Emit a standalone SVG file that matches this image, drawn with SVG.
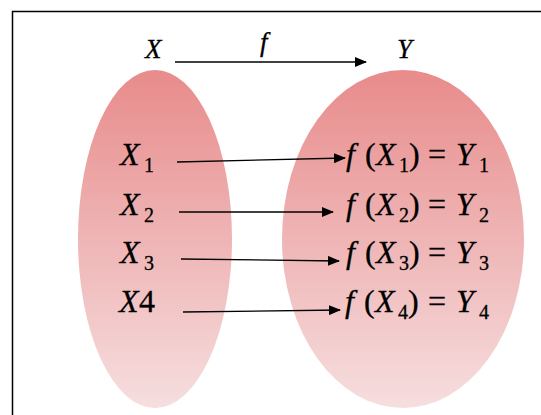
<svg xmlns="http://www.w3.org/2000/svg" width="541" height="415" viewBox="0 0 541 415">
<defs>
<linearGradient id="g" x1="0" y1="0" x2="0" y2="1">
<stop offset="0" stop-color="#e88b8b"/>
<stop offset="1" stop-color="#f6dedf"/>
</linearGradient>
<marker id="ah" markerWidth="12" markerHeight="10" refX="11" refY="5" orient="auto" markerUnits="userSpaceOnUse">
<path d="M0,0 L12,5 L0,10 Z" fill="#000"/>
</marker>
<style>
text{font-family:"Liberation Serif","DejaVu Serif",serif;font-style:italic;fill:#000;stroke:#000;stroke-width:0.3}
.m{font-size:32px}
.s{font-size:20px;font-style:normal}
.n{font-style:normal}
.h{font-size:27px}
.c line{stroke:#000;stroke-width:1.3;marker-end:url(#ah)}
</style>
</defs>
<rect width="541" height="415" fill="#fff"/>
<rect x="12.5" y="11.5" width="540" height="420" fill="none" stroke="#000" stroke-width="1.5"/>
<g id="setX"><ellipse cx="155" cy="239" rx="77" ry="169" fill="url(#g)"/><text class="h" x="145" y="58">X</text></g>
<g id="setY"><ellipse cx="403" cy="239" rx="121" ry="169" fill="url(#g)"/><text class="h" x="397" y="58">Y</text></g>
<g id="x1"><text class="m" x="120" y="165">X<tspan class="s" x="144" y="172">1</tspan></text></g>
<g id="x2"><text class="m" x="120" y="215">X<tspan class="s" x="144" y="222">2</tspan></text></g>
<g id="x3"><text class="m" x="120" y="263">X<tspan class="s" x="144" y="270">3</tspan></text></g>
<g id="x4"><text class="m" x="119" y="312">X<tspan class="n" x="139">4</tspan></text></g>
<g id="y1"><text class="m" y="165"><tspan x="346">f</tspan><tspan class="n" x="365">(</tspan><tspan x="376">X</tspan><tspan class="s" x="399" y="172">1</tspan><tspan class="n" x="409" y="165">)</tspan><tspan class="n" x="428">=</tspan><tspan x="456">Y</tspan><tspan class="s" x="479" y="172">1</tspan></text></g>
<g id="y2"><text class="m" y="215"><tspan x="346">f</tspan><tspan class="n" x="365">(</tspan><tspan x="376">X</tspan><tspan class="s" x="399" y="222">2</tspan><tspan class="n" x="409" y="215">)</tspan><tspan class="n" x="428">=</tspan><tspan x="456">Y</tspan><tspan class="s" x="479" y="222">2</tspan></text></g>
<g id="y3"><text class="m" y="263"><tspan x="346">f</tspan><tspan class="n" x="365">(</tspan><tspan x="376">X</tspan><tspan class="s" x="399" y="270">3</tspan><tspan class="n" x="409" y="263">)</tspan><tspan class="n" x="428">=</tspan><tspan x="456">Y</tspan><tspan class="s" x="479" y="270">3</tspan></text></g>
<g id="y4"><text class="m" y="312"><tspan x="345">f</tspan><tspan class="n" x="364">(</tspan><tspan x="375">X</tspan><tspan class="s" x="398" y="319">4</tspan><tspan class="n" x="408" y="312">)</tspan><tspan class="n" x="428">=</tspan><tspan x="456">Y</tspan><tspan class="s" x="479" y="319">4</tspan></text></g>
<text class="h" x="260" y="51">f</text>
<g class="c" id="connectors">
<line x1="175" y1="62" x2="366" y2="62"/>
<line x1="177" y1="162" x2="345" y2="158"/>
<line x1="179" y1="212" x2="333" y2="212"/>
<line x1="181" y1="259" x2="339" y2="261"/>
<line x1="183" y1="312" x2="340" y2="310"/>
</g>
</svg>
